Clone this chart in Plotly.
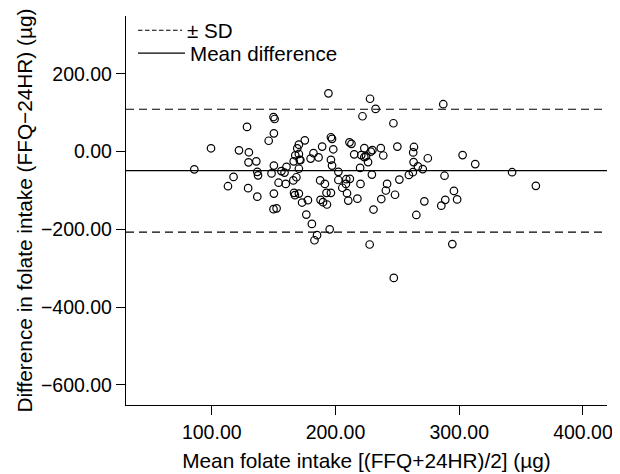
import plotly.graph_objects as go

mean_intake = [85.9, 99.4, 113.1, 117.6, 122.0, 128.5, 130.0, 129.7, 129.4, 136.0,
               136.8, 137.4, 136.8, 146.0, 148.3, 150.2, 149.9, 150.8, 150.2, 150.2,
               149.9, 152.4, 154.0, 156.3, 158.8, 160.4, 159.8, 165.9, 166.2, 166.5,
               167.2, 167.5, 168.4, 169.1, 170.4, 170.4, 170.4, 171.0, 171.6, 170.4,
               173.0, 175.2, 176.4, 177.7, 179.9, 180.9, 182.2, 183.0, 185.1, 186.3,
               187.6, 187.9, 189.2, 189.9, 191.4, 192.7, 193.1, 194.3, 195.3, 196.3,
               197.2, 196.3, 197.2, 196.3, 198.2, 202.3, 202.3, 205.5, 208.4, 208.7,
               209.3, 210.3, 211.3, 212.9, 211.6, 215.1, 217.7, 219.9, 220.2, 221.8,
               220.8, 223.3, 223.3, 224.7, 226.3, 227.9, 227.6, 228.5, 229.8, 229.4,
               230.7, 232.4, 236.6, 238.6, 237.0, 240.7, 241.7, 246.8, 247.1, 248.1,
               250.0, 251.6, 259.3, 262.5, 263.4, 262.8, 263.1, 265.3, 266.6, 270.5,
               271.8, 274.6, 287.1, 285.5, 288.1, 288.7, 294.4, 295.7, 298.3, 302.7,
               312.9, 342.7, 361.9]
difference = [-45.5, 8.6, -89, -65, 3.4, 63.5, -1.7, -27.5, -94, -25,
              -52, -61, -116, 28, -56, 47, 89, 84, -36, -108,
              -148, -146, -80, -50, -54, -39, -83, -74, -25, -106,
              -112, -9.4, -66, 8.6, 18, -6, -44, -21, -22, -108,
              -131, 29, -162, -125, -18, -186, -4, -228, -215, -15,
              -74, -124, 13, -130, -83, -106, -136, 150, -200, 37,
              33, -21, -36, -106, 6, -52, -73, -93, -83, -71,
              -107, -126, 24, 20, -70, -7, -121, -42, -83, 91,
              -9, 9, -14, -12, -27, 136, -239, 0, 4, -59,
              -149, 110, 9, -10, -122, -100, -83, 73, -325, -111,
              13, -72, -60, -53, 12, -2, -27, -163, -38, -45,
              -128, -17, 122, -139, -62, -124, -238, -101, -123, -9,
              -32, -53, -88]

mean_diff = -49.0
upper_sd = 109.0
lower_sd = -207.0

x_range = [30.7, 419.4]
y_range = [-652, 349]
x_ticks = [100, 200, 300, 400]
y_ticks = [200, 0, -200, -400, -600]

x_title = "Mean folate intake [(FFQ+24HR)/2] (µg)"
y_title = "Difference in folate intake (FFQ−24HR) (µg)"

font_family = "Liberation Sans, Arial, sans-serif"

fig = go.Figure()
# SD limit lines (legend shown via a separate entry with a finer dash)
fig.add_trace(go.Scatter(
    x=[x_range[0], x_range[1], None, x_range[0], x_range[1]],
    y=[upper_sd, upper_sd, None, lower_sd, lower_sd],
    mode="lines", showlegend=False, hoverinfo="skip",
    line=dict(color="black", width=1.2, dash="8px,5px"),
))
fig.add_trace(go.Scatter(
    x=[None], y=[None], mode="lines", name="± SD", legend="legend",
    line=dict(color="black", width=1.2, dash="4.5px,2.5px"),
))
fig.add_trace(go.Scatter(
    x=x_range, y=[mean_diff, mean_diff],
    mode="lines", name="Mean difference", legend="legend2",
    line=dict(color="black", width=1.2),
))
fig.add_trace(go.Scatter(
    x=mean_intake, y=difference, mode="markers", showlegend=False,
    marker=dict(symbol="circle-open", size=7.5, color="black", line=dict(width=1.2, color="black")),
))

legend_common = dict(xref="container", yref="container", xanchor="left", yanchor="top",
                     bgcolor="rgba(0,0,0,0)", font=dict(size=20.6))

fig.update_layout(
    width=620, height=474,
    margin=dict(l=118, r=21, t=8, b=77, autoexpand=False),
    paper_bgcolor="white", plot_bgcolor="white",
    font=dict(family=font_family, size=19.5, color="black"),
    showlegend=True,
    legend=dict(x=0.2016, y=0.995, itemwidth=44, **legend_common),
    legend2=dict(x=0.2016, y=0.9466, itemwidth=47, **legend_common),
    xaxis=dict(range=x_range, tickvals=x_ticks, tickformat=".2f", automargin=True,
               showgrid=False, zeroline=False, showline=True, linecolor="black",
               linewidth=1.3, ticks="outside", ticklen=9, tickcolor="black",
               tickfont=dict(size=19.5),
               title=dict(text=x_title, standoff=11, font=dict(size=20.8))),
    yaxis=dict(range=y_range, tickvals=y_ticks, tickformat=".2f", automargin=True,
               showgrid=False, zeroline=False, showline=True, linecolor="black",
               linewidth=1.3, ticks="outside", ticklen=9, tickcolor="black",
               tickfont=dict(size=19.5)),
    annotations=[dict(text=y_title, xref="paper", yref="paper", x=-0.212, y=0.5,
                      xanchor="center", yanchor="middle", textangle=-90, showarrow=False,
                      font=dict(size=20.8, color="black"))],
)

fig.write_html("out.html")
